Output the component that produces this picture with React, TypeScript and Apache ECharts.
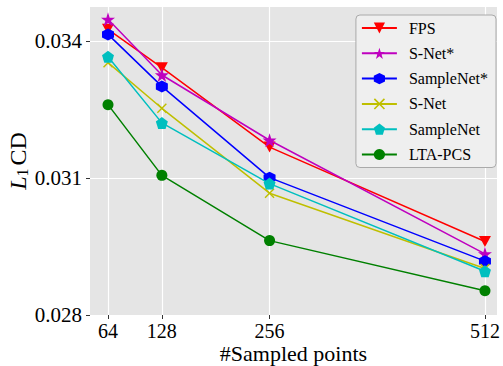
import React, { useEffect, useRef } from "react";
import * as echarts from "echarts";

const xValues = [64, 128, 256, 512];
const seriesNames = ["FPS", "S-Net*", "SampleNet*", "S-Net", "SampleNet", "LTA-PCS"];
const fps = [0.03426, 0.03342, 0.03168, 0.02961];
const snetStar = [0.03448, 0.03326, 0.03183, 0.02934];
const sampleNetStar = [0.03415, 0.03301, 0.03101, 0.02918];
const snet = [0.03353, 0.03253, 0.03067, 0.02902];
const sampleNet = [0.03366, 0.03221, 0.03088, 0.02896];
const lta = [0.03261, 0.03106, 0.02963, 0.02853];
const yTicks = [0.028, 0.031, 0.034];
const xTicks = [64, 128, 256, 512];

const FONT = "Liberation Serif";

const STAR = "path://M50,0 L61.2,34.5 L97.6,34.5 L68.2,55.9 L79.4,90.5 L50,69.1 L20.6,90.5 L31.8,55.9 L2.4,34.5 L38.8,34.5 Z";
const HEX = "path://M50,0 L93.3,25 L93.3,75 L50,100 L6.7,75 L6.7,25 Z";
const PENT = "path://M50,0 L97.6,34.5 L79.4,90.5 L20.6,90.5 L2.4,34.5 Z";
const XMARK = "path://M0,1 L1,0 L5,4 L9,0 L10,1 L6,5 L10,9 L9,10 L5,6 L1,10 L0,9 L4,5 Z";
const TRI_DOWN = "path://M0,0 L10,0 L5,9 Z";

export default function App() {
  const ref = useRef<HTMLDivElement>(null);
  useEffect(() => {
    if (!ref.current) return;
    const chart = echarts.init(ref.current, null, { renderer: "svg" });
    const values = [fps, snetStar, sampleNetStar, snet, sampleNet, lta];
    const colors = ["#ff0000", "#bf00bf", "#0000ff", "#bfbf00", "#00bfbf", "#008000"];
    const symbols = [TRI_DOWN, STAR, HEX, XMARK, PENT, "circle"];
    const sizes: any[] = [[12, 11], 14, 12, 10, 12, 11];
    const series = seriesNames.map((name, i) => ({
      name,
      type: "line",
      data: xValues.map((x, j) => [x, values[i][j]]),
      symbol: symbols[i],
      symbolSize: sizes[i],
      showAllSymbol: true,
      lineStyle: { color: colors[i], width: 1.5 },
      itemStyle: { color: colors[i] },
      z: 2 + i,
    }));
    chart.setOption({
      animation: false,
      backgroundColor: "#ffffff",
      textStyle: { fontFamily: FONT },
      grid: {
        left: 90,
        right: 6,
        top: 7,
        bottom: 51,
        show: true,
        backgroundColor: "#e5e5e5",
        borderWidth: 0,
        containLabel: false,
        outerBoundsMode: "none",
      },
      xAxis: {
        type: "value",
        min: 42.6,
        max: 526.3,
        name: "#Sampled points",
        nameLocation: "middle",
        nameGap: 27,
        nameMoveOverlap: false,
        nameTextStyle: { fontFamily: FONT, fontSize: 22, color: "#000" },
        axisLine: { show: false },
        axisTick: { show: true, length: 4, lineStyle: { color: "#333" }, customValues: xTicks },
        axisLabel: {
          fontFamily: FONT,
          fontSize: 20,
          color: "#000",
          margin: 6,
          customValues: xTicks,
        },
        splitLine: { show: true, lineStyle: { color: "#ffffff", width: 1.2 } },
      },
      yAxis: {
        type: "value",
        min: 0.028,
        max: 0.03475,
        interval: 0.003,
        name: "{i|L}{s|1} {n|CD}",
        nameLocation: "middle",
        nameGap: 60,
        nameRotate: 90,
        nameMoveOverlap: false,
        nameTextStyle: {
          color: "#000",
          fontFamily: FONT,
          rich: {
            i: { fontFamily: FONT, fontSize: 24, fontStyle: "italic", color: "#000" },
            s: { fontFamily: FONT, fontSize: 16, color: "#000", verticalAlign: "bottom", padding: [8, 0, 0, 0] },
            n: { fontFamily: FONT, fontSize: 24, color: "#000" },
          },
        },
        axisLine: { show: false },
        axisTick: { show: true, length: 4, lineStyle: { color: "#333" }, customValues: yTicks },
        axisLabel: {
          fontFamily: FONT,
          fontSize: 21,
          color: "#000",
          margin: 8,
          customValues: yTicks,
          formatter: (v: number) => v.toFixed(3),
        },
        splitLine: { show: true, lineStyle: { color: "#ffffff", width: 1.2 } },
      },
      legend: {
        data: seriesNames,
        orient: "vertical",
        right: 7,
        top: 15,
        padding: [5, 8, 5, 5],
        itemWidth: 35,
        itemHeight: 14,
        itemGap: 9.3,
        backgroundColor: "#efefef",
        borderColor: "#aaaaaa",
        borderWidth: 1,
        borderRadius: 4,
        textStyle: { fontFamily: FONT, fontSize: 16, color: "#000", padding: [0, 0, 0, 7] },
      },
      series,
    });
    return () => chart.dispose();
  }, []);
  return (
    <div
      ref={ref}
      style={{ position: "absolute", left: 0, top: 0, width: 503, height: 366 }}
    />
  );
}
